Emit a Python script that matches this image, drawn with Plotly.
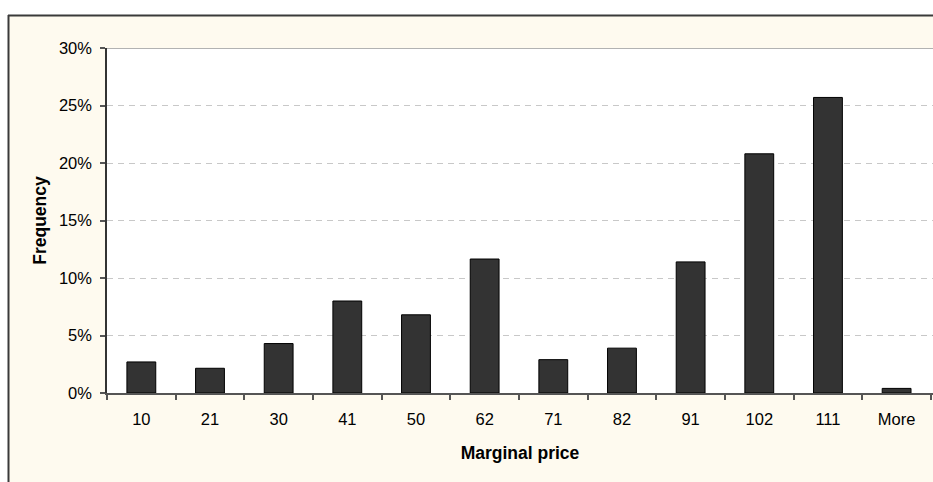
import plotly.graph_objects as go

# Histogram of marginal prices (bin upper bounds) and relative frequency
bins = ["10", "21", "30", "41", "50", "62", "71", "82", "91", "102", "111", "More"]
frequency = [0.027, 0.0215, 0.043, 0.080, 0.068, 0.1165, 0.029, 0.039, 0.114, 0.208, 0.257, 0.004]
y_ticks = [0, 0.05, 0.10, 0.15, 0.20, 0.25, 0.30]

W, H = 933, 482
L, T, B = 107, 48, 89
plot_w = W - L
plot_h = H - T - B

cream = "#FEFAEF"
font = "Liberation Sans, Arial, sans-serif"

fig = go.Figure(
    go.Bar(
        x=bins,
        y=frequency,
        marker=dict(color="#333333", line=dict(color="#000000", width=1)),
        width=0.42,
    )
)

def px_to_paper_x(px):
    return (px - L) / plot_w

def px_to_paper_y(py):
    return (H - B - py) / plot_h

shapes = [
    # white margin outside the framed chart area
    dict(type="rect", xref="paper", yref="paper",
         x0=px_to_paper_x(-5), x1=px_to_paper_x(W + 5),
         y0=px_to_paper_y(15), y1=px_to_paper_y(-5),
         fillcolor="white", line=dict(width=0), layer="above"),
    dict(type="rect", xref="paper", yref="paper",
         x0=px_to_paper_x(-5), x1=px_to_paper_x(8),
         y0=px_to_paper_y(H + 5), y1=px_to_paper_y(15),
         fillcolor="white", line=dict(width=0), layer="above"),
    # chart frame border
    dict(type="line", xref="paper", yref="paper",
         x0=px_to_paper_x(8), x1=px_to_paper_x(W + 5),
         y0=px_to_paper_y(15.5), y1=px_to_paper_y(15.5),
         line=dict(color="#3a3a3a", width=2), layer="above"),
    dict(type="line", xref="paper", yref="paper",
         x0=px_to_paper_x(8.5), x1=px_to_paper_x(8.5),
         y0=px_to_paper_y(15), y1=px_to_paper_y(H + 5),
         line=dict(color="#3a3a3a", width=2), layer="above"),
    # top edge of the plot area
    dict(type="line", xref="paper", yref="y",
         x0=0, x1=1, y0=0.30, y1=0.30,
         line=dict(color="#999999", width=1.5), layer="above"),
]

fig.update_layout(
    width=W, height=H,
    margin=dict(l=L, r=0, t=T, b=B),
    paper_bgcolor=cream,
    plot_bgcolor="white",
    showlegend=False,
    font=dict(family=font, size=16, color="#000000"),
    shapes=shapes,
)

fig.update_xaxes(
    type="category",
    range=[-0.5, 11.53],
    tickson="boundaries",
    ticks="outside", ticklen=5, tickcolor="#555555", tickwidth=1.5,
    ticklabelstandoff=10,
    showline=True, linecolor="#555555", linewidth=2,
    showgrid=False,
    tickfont=dict(size=16.5),
    title=dict(text="<b>Marginal price</b>", font=dict(size=17.5), standoff=20),
)

fig.update_yaxes(
    range=[0, 0.30],
    tickvals=y_ticks,
    tickformat=".0%",
    ticks="outside", ticklen=5, tickcolor="#555555", tickwidth=1.5,
    ticklabelstandoff=5,
    showline=True, linecolor="#333333", linewidth=1.5,
    showgrid=True, gridcolor="#C8C8C8", gridwidth=1, griddash="6px,5px",
    zeroline=False,
    tickfont=dict(size=16.5),
    title=dict(text="<b>Frequency</b>", font=dict(size=17.5), standoff=8),
)

fig.write_html("out.html")
